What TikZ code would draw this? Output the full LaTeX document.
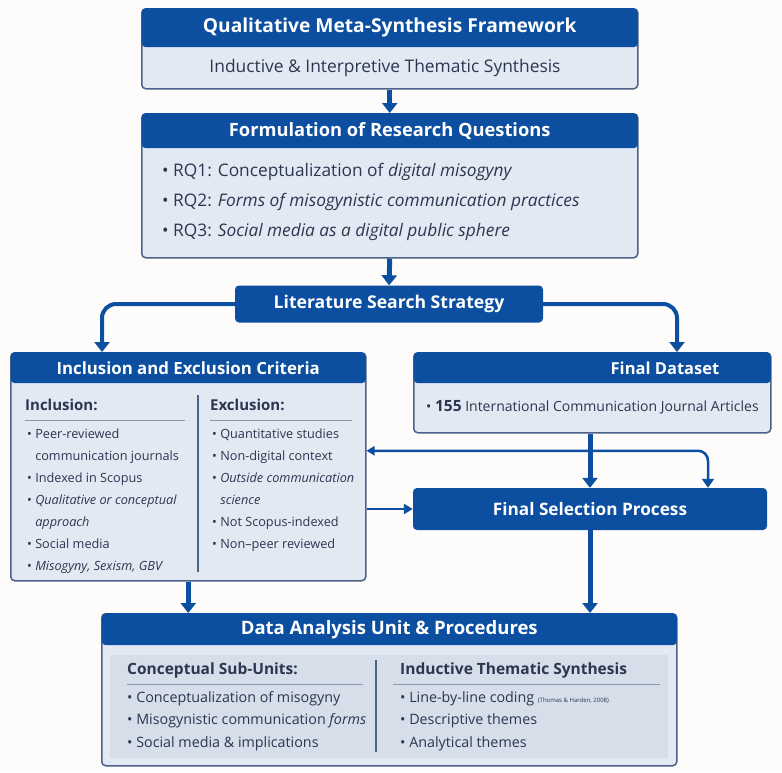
\documentclass[tikz,border=0pt]{standalone}
\usepackage{fontspec}
\setmainfont{Open Sans}
\usetikzlibrary{arrows.meta,positioning}

\definecolor{hdrblue}{HTML}{0C4EA0}
\definecolor{bodyblue}{HTML}{E3E9F3}
\definecolor{panelblue}{HTML}{D6DEEA}
\definecolor{edgegray}{HTML}{4A6189}
\definecolor{ink}{HTML}{2B3650}
\definecolor{rulegray}{HTML}{8A97AD}
\definecolor{paper}{HTML}{FEFCFA}

\newcommand{\fs}[1]{\fontsize{#1}{#1}\selectfont}
\newcommand{\lfs}[2]{\fontsize{#1}{#2}\selectfont}

\tikzset{
	frame/.style={draw=edgegray,line width=1.5pt,fill=bodyblue,rounded corners=4pt,inner sep=0,anchor=north west},
	head/.style={fill=hdrblue,text=white,font=\bfseries\fs{16.8},rounded corners=4pt,inner sep=0,anchor=north},
	solidbox/.style={fill=hdrblue,text=white,font=\bfseries\fs{17.2},rounded corners=4pt,inner sep=0},
	txt/.style={text=ink,inner sep=0,anchor=west},
	list/.style={text=ink,inner sep=0,anchor=north west,align=left},
	bigarrow/.style={hdrblue,line width=5pt,-{Triangle[width=15pt,length=10pt]}},
	thinarrow/.style={hdrblue,line width=2.5pt},
}

\begin{document}
\begin{tikzpicture}[x=1pt,y=-1pt]

\fill[paper] (0,0) rectangle (782,772);
\useasboundingbox (0,0) rectangle (782,772);

% framework
\node[frame,minimum width=496pt,minimum height=80pt] (qmsf) at (141,8) {};
\node[head,minimum width=496pt,minimum height=39pt,font=\bfseries\fs{19.2}] (qmsfhead) at (qmsf.north) {Qualitative Meta-Synthesis Framework};
\node[txt,anchor=center,font=\fs{17.4}] (qmsftext) at (385,68) {Inductive \& Interpretive Thematic Synthesis};

% research questions
\node[frame,minimum width=496pt,minimum height=144pt] (rq) at (141,113) {};
\node[head,minimum width=496pt,minimum height=35pt,font=\bfseries\fs{18.3}] (rqhead) at (rq.north) {Formulation of Research Questions};
\node[txt,font=\fs{17.3}] (rq1) at (162,172) {\textbullet\ RQ1: Conceptualization of \textit{digital misogyny}};
\node[txt,font=\fs{17.3}] (rq2) at (162,202) {\textbullet\ RQ2: \textit{Forms of misogynistic communication practices}};
\node[txt,font=\fs{17.3}] (rq3) at (162,232) {\textbullet\ RQ3: \textit{Social media as a digital public sphere}};

% search strategy
\node[solidbox,minimum width=308pt,minimum height=37pt,font=\bfseries\fs{17.6}] (lss) at (389,304) {Literature Search Strategy};

% inclusion / exclusion
\node[frame,minimum width=355pt,minimum height=228pt] (ie) at (10,352) {};
\node[head,minimum width=355pt,minimum height=31pt] (iehead) at (ie.north) {Inclusion and Exclusion Criteria};
\node[txt,font=\bfseries\fs{15}] (inc) at (25,405) {Inclusion:};
\node[txt,font=\bfseries\fs{15}] (exc) at (210,405) {Exclusion:};
\draw[rulegray,line width=1pt] (25,420) -- (185,420);
\draw[rulegray,line width=1pt] (210,420) -- (352,420);
\draw[edgegray,line width=1.2pt] (198,395) -- (198,572);
\node[list,font=\lfs{12.7}{22}] (inclist) at (27,429) {%
	\textbullet\ Peer-reviewed\\
	\phantom{\textbullet\ }communication journals\\
	\textbullet\ Indexed in Scopus\\
	\textbullet\ \textit{Qualitative or conceptual}\\
	\phantom{\textbullet\ }\textit{approach}\\
	\textbullet\ Social media\\
	\textbullet\ \textit{Misogyny, Sexism, GBV}};
\node[list,font=\lfs{12.7}{22}] (exclist) at (212,429) {%
	\textbullet\ Quantitative studies\\
	\textbullet\ Non-digital context\\
	\textbullet\ \textit{Outside communication}\\
	\phantom{\textbullet\ }\textit{science}\\
	\textbullet\ Not Scopus-indexed\\
	\textbullet\ Non--peer reviewed};

% dataset
\node[frame,minimum width=357pt,minimum height=80pt] (fd) at (413,352) {};
\node[head,minimum width=357pt,minimum height=31pt] (fdhead) at (fd.north) {};
\node[txt,anchor=center,text=white,font=\bfseries\fs{16.5}] (fdtitle) at (665,368) {Final Dataset};
\node[txt,font=\fs{14}] (fdtext) at (426,407) {\textbullet\ \textbf{\fs{15.5}155} International Communication Journal Articles};

% selection
\node[solidbox,minimum width=354pt,minimum height=42pt] (fsp) at (590,509) {Final Selection Process};

% data analysis
\node[frame,minimum width=575pt,minimum height=152pt] (da) at (101,613) {};
\node[head,minimum width=575pt,minimum height=32pt,font=\bfseries\fs{18.5}] (dahead) at (da.north) {Data Analysis Unit \& Procedures};
\fill[panelblue] (110,655) rectangle (668,758);
\node[txt,font=\bfseries\fs{15.5}] (csu) at (127,670) {Conceptual Sub-Units:};
\node[txt,font=\bfseries\fs{15.5}] (its) at (400,670) {Inductive Thematic Synthesis};
\draw[rulegray,line width=1pt] (127,684) -- (363,684);
\draw[rulegray,line width=1pt] (393,684) -- (660,684);
\draw[edgegray,line width=1.2pt] (376,660) -- (376,752);
\node[list,font=\lfs{14.3}{22.5}] (csulist) at (127,691) {%
	\textbullet\ Conceptualization of misogyny\\
	\textbullet\ Misogynistic communication \textit{forms}\\
	\textbullet\ Social media \& implications};
\node[list,font=\lfs{14.3}{22.5}] (itslist) at (400,691) {%
	\textbullet\ Line-by-line coding {\fs{6}(Thomas \& Harden, 2008)}\\
	\textbullet\ Descriptive themes\\
	\textbullet\ Analytical themes};

% connectors
\draw[bigarrow] (qmsf.south) -- (rq.north);
\draw[bigarrow] (rq.south) -- (lss.north);
\draw[bigarrow,line width=4pt,rounded corners=14pt] (lss.west) -| ([xshift=92pt]ie.north west);
\draw[bigarrow,line width=4pt,rounded corners=14pt] (lss.east) -| ([xshift=264pt]fd.north west);
\draw[bigarrow] (fd.south -| fsp.north) -- (fsp.north);
\draw[thinarrow,{Triangle[width=9pt,length=8pt]}-{Triangle[width=12pt,length=9pt]},rounded corners=10pt]
	([yshift=16pt]ie.east) -| ([xshift=118pt]fsp.north);
\draw[thinarrow,-{Triangle[width=10pt,length=9pt]}] (ie.east |- fsp.west) -- (fsp.west);
\draw[bigarrow] (ie.south) -- (ie.south |- da.north);
\draw[bigarrow] (fsp.south) -- (fsp.south |- da.north);

\end{tikzpicture}
\end{document}
